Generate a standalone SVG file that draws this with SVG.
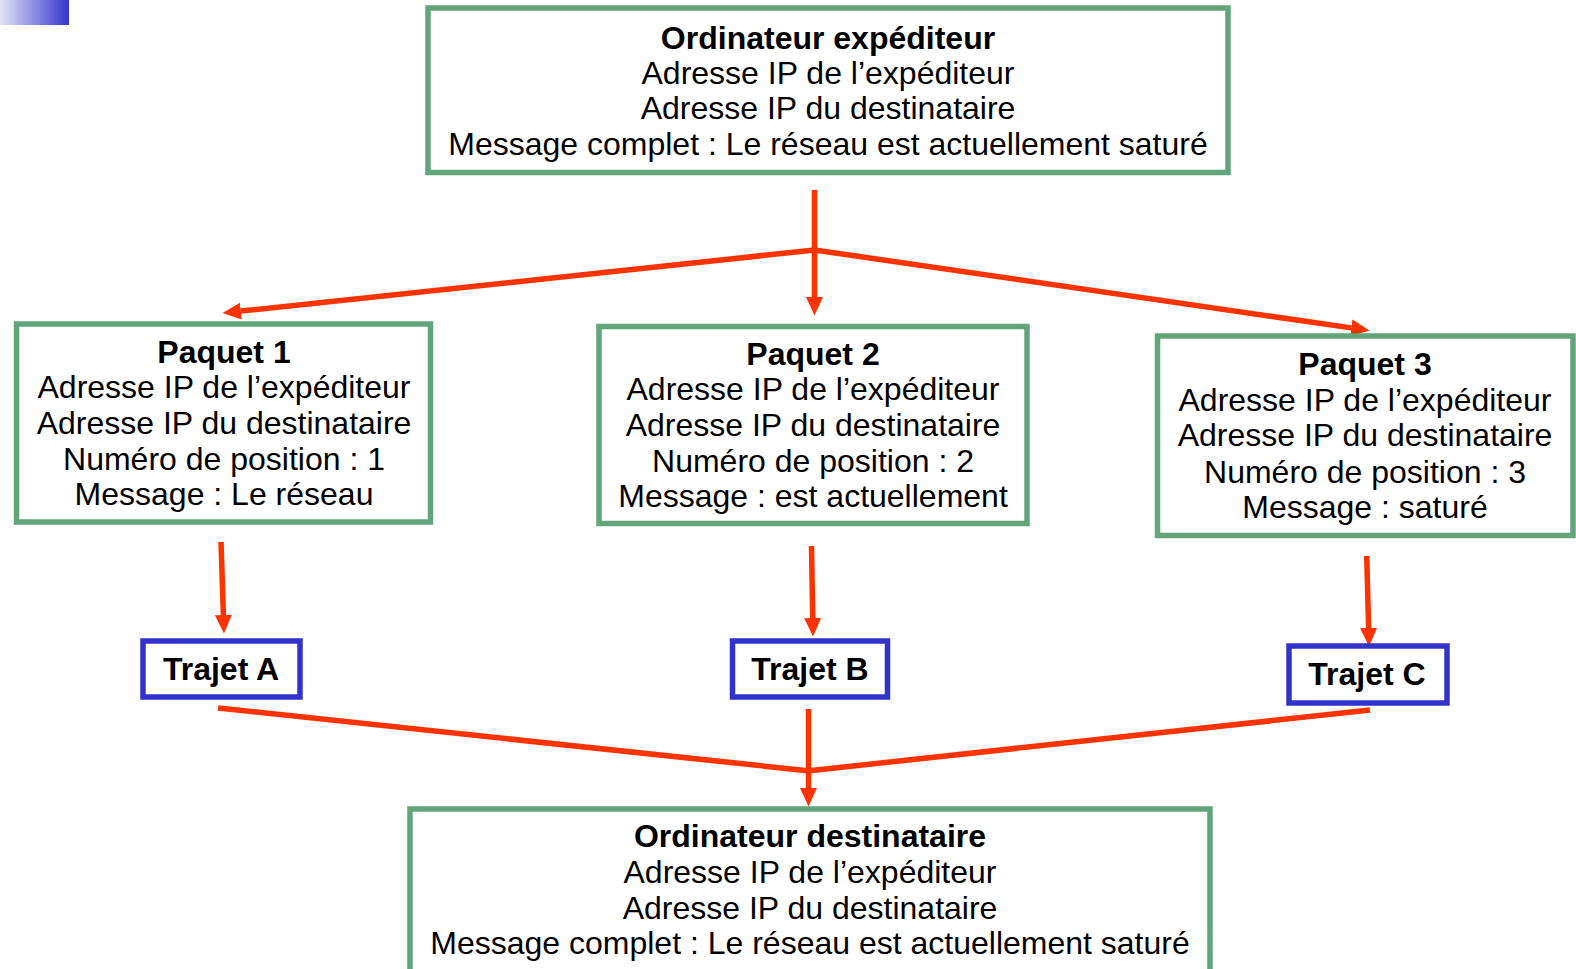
<svg xmlns="http://www.w3.org/2000/svg" width="1576" height="969" viewBox="0 0 1576 969">
<defs>
<linearGradient id="corner" x1="0" y1="0" x2="1" y2="0">
<stop offset="0" stop-color="#e4e4f6"/>
<stop offset="1" stop-color="#3434cc"/>
</linearGradient>
<marker id="ah" markerUnits="userSpaceOnUse" markerWidth="19" markerHeight="18" viewBox="0 0 19 18" refX="0" refY="9" orient="auto">
<path d="M0,0.5 L18.5,9 L0,17.5 Z" fill="#ff3300"/>
</marker>
</defs>
<style>
.g{fill:#fff;stroke:#62a57b;stroke-width:5.5}
.b{fill:#fff;stroke:#3333cc;stroke-width:5.5}
.t{font-family:"Liberation Sans",Arial,sans-serif;font-size:32px;fill:#000;text-anchor:middle}
.h{font-weight:bold}
.c{fill:none;stroke:#ff3300;stroke-width:5.5}
.a{marker-end:url(#ah)}
</style>
<rect x="0" y="0" width="69" height="25" fill="url(#corner)"/>

<g id="connectors">
<line class="c" x1="814.5" y1="190" x2="814.5" y2="252"/>
<line class="c a" x1="814.5" y1="250" x2="814.5" y2="297"/>
<line class="c a" x1="814.5" y1="250" x2="240.9" y2="311.1"/>
<line class="c a" x1="814.5" y1="250" x2="1351.2" y2="327.9"/>
<line class="c a" x1="221" y1="542" x2="223.4" y2="615"/>
<line class="c a" x1="811.5" y1="546" x2="812.7" y2="618"/>
<line class="c a" x1="1366.7" y1="556" x2="1368.6" y2="628"/>
<line class="c" x1="218" y1="708" x2="810" y2="771"/>
<line class="c" x1="1370" y1="710" x2="807" y2="771"/>
<line class="c a" x1="808.5" y1="709" x2="808.5" y2="788"/>
</g>

<g id="sender">
<rect class="g" x="428" y="8" width="800" height="164.5"/>
<text class="t h" x="828" y="48.5">Ordinateur expéditeur</text>
<text class="t" x="828" y="84">Adresse IP de l’expéditeur</text>
<text class="t" x="828" y="119">Adresse IP du destinataire</text>
<text class="t" x="828" y="154.5">Message complet : Le réseau est actuellement saturé</text>
</g>

<g id="paquet1">
<rect class="g" x="16.5" y="324" width="414" height="198"/>
<text class="t h" x="224" y="362.5">Paquet 1</text>
<text class="t" x="224" y="398">Adresse IP de l’expéditeur</text>
<text class="t" x="224" y="433.5">Adresse IP du destinataire</text>
<text class="t" x="224" y="469.5">Numéro de position : 1</text>
<text class="t" x="224" y="505">Message : Le réseau</text>
</g>

<g id="paquet2">
<rect class="g" x="599" y="326.5" width="428" height="197"/>
<text class="t h" x="813" y="364.5">Paquet 2</text>
<text class="t" x="813" y="400">Adresse IP de l’expéditeur</text>
<text class="t" x="813" y="435.5">Adresse IP du destinataire</text>
<text class="t" x="813" y="471.5">Numéro de position : 2</text>
<text class="t" x="813" y="507">Message : est actuellement</text>
</g>

<g id="paquet3">
<rect class="g" x="1157.5" y="336" width="415.5" height="199.5"/>
<text class="t h" x="1365" y="375">Paquet 3</text>
<text class="t" x="1365" y="410.5">Adresse IP de l’expéditeur</text>
<text class="t" x="1365" y="446">Adresse IP du destinataire</text>
<text class="t" x="1365" y="482.5">Numéro de position : 3</text>
<text class="t" x="1365" y="518">Message : saturé</text>
</g>

<g id="trajetA">
<rect class="b" x="143" y="641" width="157" height="56"/>
<text class="t h" x="221" y="680">Trajet A</text>
</g>
<g id="trajetB">
<rect class="b" x="732.5" y="641" width="155" height="56"/>
<text class="t h" x="810" y="680">Trajet B</text>
</g>
<g id="trajetC">
<rect class="b" x="1289" y="646" width="158" height="57"/>
<text class="t h" x="1367" y="685">Trajet C</text>
</g>

<g id="receiver">
<rect class="g" x="410" y="809" width="800" height="200"/>
<text class="t h" x="810" y="847">Ordinateur destinataire</text>
<text class="t" x="810" y="883">Adresse IP de l’expéditeur</text>
<text class="t" x="810" y="918.5">Adresse IP du destinataire</text>
<text class="t" x="810" y="954">Message complet : Le réseau est actuellement saturé</text>
</g>
</svg>
